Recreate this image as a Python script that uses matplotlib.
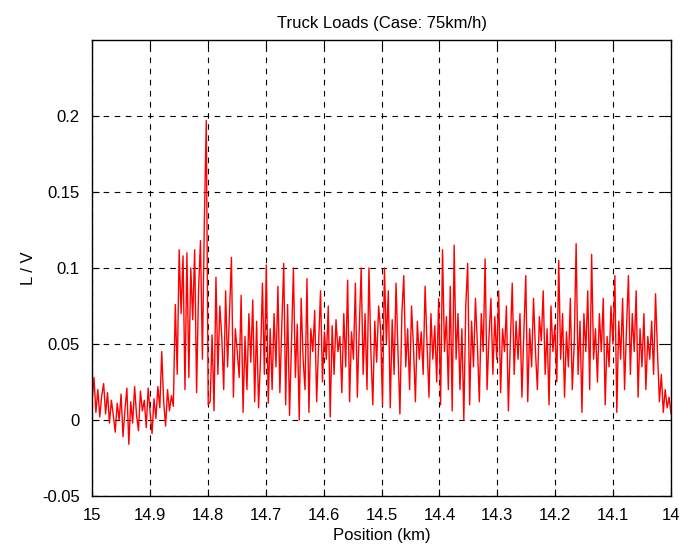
import numpy as np
import matplotlib
matplotlib.use("Agg")
import matplotlib.pyplot as plt

plt.rcParams['font.family'] = ['Liberation Sans', 'DejaVu Sans']

# L/V values, from 15 km down to 14 km
lv_values = [
    0.012, 0.028, 0.005, 0.02, 0.002, 0.016, 0.024, 0.004, 0.018, -0.002,
    0.013, 0.003, -0.008, 0.011, 0.0, 0.017, -0.011, 0.007, 0.021, -0.016,
    0.012, -0.002, 0.022, 0.003, -0.007, 0.019, 0.006, 0.013, -0.005, 0.021,
    0.005, -0.009, 0.014, 0.001, 0.022, 0.008, 0.045, 0.012, -0.004, 0.02,
    0.006, 0.016, 0.009, 0.076, 0.03, 0.112, 0.07, 0.108, 0.02, 0.11,
    0.028, 0.1, 0.066, 0.112, 0.018, 0.085, 0.118, 0.04, 0.13, 0.197,
    0.01, 0.012, 0.056, 0.006, 0.094, 0.03, 0.075, 0.055, 0.02, 0.085,
    0.035, 0.07, 0.107, 0.015, 0.06, 0.045, 0.028, 0.082, 0.005, 0.055,
    0.02, 0.07, 0.038, 0.079, 0.012, 0.065, 0.008, 0.04, 0.09, 0.03,
    0.102, 0.011, 0.06, 0.02, 0.07, 0.035, 0.088, 0.018, 0.062, 0.103,
    0.01, 0.076, 0.003, 0.05, 0.1, 0.028, 0.063, 0.0, 0.08, 0.04,
    0.02, 0.093, 0.005, 0.06, 0.045, 0.072, 0.012, 0.05, 0.085, 0.025,
    0.058, 0.04, 0.075, 0.002, 0.062, 0.03, 0.066, 0.045, 0.055, 0.018,
    0.07, 0.035, 0.092, 0.012, 0.058, 0.04, 0.09, 0.015, 0.06, 0.1,
    0.03, 0.07, 0.02, 0.1, 0.045, 0.01, 0.065, 0.038, 0.075, 0.06,
    0.01, 0.1, 0.05, 0.085, 0.008, 0.066, 0.03, 0.09, 0.045, 0.004,
    0.07, 0.095, 0.035, 0.06, 0.02, 0.075, 0.048, 0.012, 0.065, 0.04,
    0.058, 0.03, 0.088, 0.05, 0.015, 0.07, 0.04, 0.062, 0.025, 0.08,
    0.01, 0.112, 0.045, 0.068, 0.02, 0.088, 0.006, 0.115, 0.04, 0.07,
    0.02, 0.06, 0.0, 0.075, 0.103, 0.01, 0.065, 0.035, 0.08, 0.05,
    0.012, 0.07, 0.045, 0.106, 0.02, 0.055, 0.08, 0.03, 0.068, 0.04,
    0.085, 0.018, 0.06, 0.045, 0.075, 0.006, 0.05, 0.09, 0.03, 0.065,
    0.04, 0.07, 0.015, 0.058, 0.095, 0.012, 0.06, 0.035, 0.08, 0.045,
    0.02, 0.068, 0.052, 0.085, 0.03, 0.06, 0.01, 0.075, 0.045, 0.062,
    0.025, 0.105, 0.04, 0.07, 0.015, 0.058, 0.035, 0.08, 0.02, 0.05,
    0.116, 0.03, 0.065, 0.005, 0.07, 0.045, 0.085, 0.02, 0.109, 0.04,
    0.06, 0.025, 0.07, 0.045, 0.08, 0.01, 0.055, 0.035, 0.075, 0.05,
    0.095, 0.005, 0.065, 0.04, 0.08, 0.02, 0.06, 0.095, 0.03, 0.07,
    0.045, 0.085, 0.015, 0.06, 0.035, 0.07, 0.02, 0.055, 0.04, 0.065,
    0.03, 0.083, 0.045, 0.012, 0.03, 0.005, 0.02, 0.008, 0.015, 0.004,
]
position_km = np.linspace(15.0, 14.0, len(lv_values))

x_ticks = [15, 14.9, 14.8, 14.7, 14.6, 14.5, 14.4, 14.3, 14.2, 14.1, 14]
x_labels = ['15', '14.9', '14.8', '14.7', '14.6', '14.5', '14.4', '14.3', '14.2', '14.1', '14']
y_ticks = [-0.05, 0, 0.05, 0.1, 0.15, 0.2]
y_labels = ['-0.05', '0', '0.05', '0.1', '0.15', '0.2']

fig = plt.figure(figsize=(6.94, 5.48), dpi=100)
ax = fig.add_axes([0.1326, 0.0949, 0.8343, 0.8321])

ax.plot(position_km, lv_values, color='red', linewidth=1.0)

ax.set_xlim(15, 14)
ax.set_ylim(-0.05, 0.25)
ax.set_xticks(x_ticks)
ax.set_xticklabels(x_labels)
ax.set_yticks(y_ticks)
ax.set_yticklabels(y_labels)
ax.tick_params(direction='in', top=True, right=True, labelsize=12, length=5, width=0.8)
ax.tick_params(axis='x', pad=9)
ax.tick_params(axis='y', pad=9)
ax.grid(True, color='black', linestyle=(0, (5, 5)), linewidth=0.8)
for s in ax.spines.values():
    s.set_linewidth(1.0)

ax.set_title('Truck Loads (Case: 75km/h)', fontsize=12, pad=9)
ax.set_xlabel('Position (km)', fontsize=12, labelpad=3)
ax.set_ylabel('L / V', fontsize=12, labelpad=4)

fig.savefig('out.png', dpi=100)
